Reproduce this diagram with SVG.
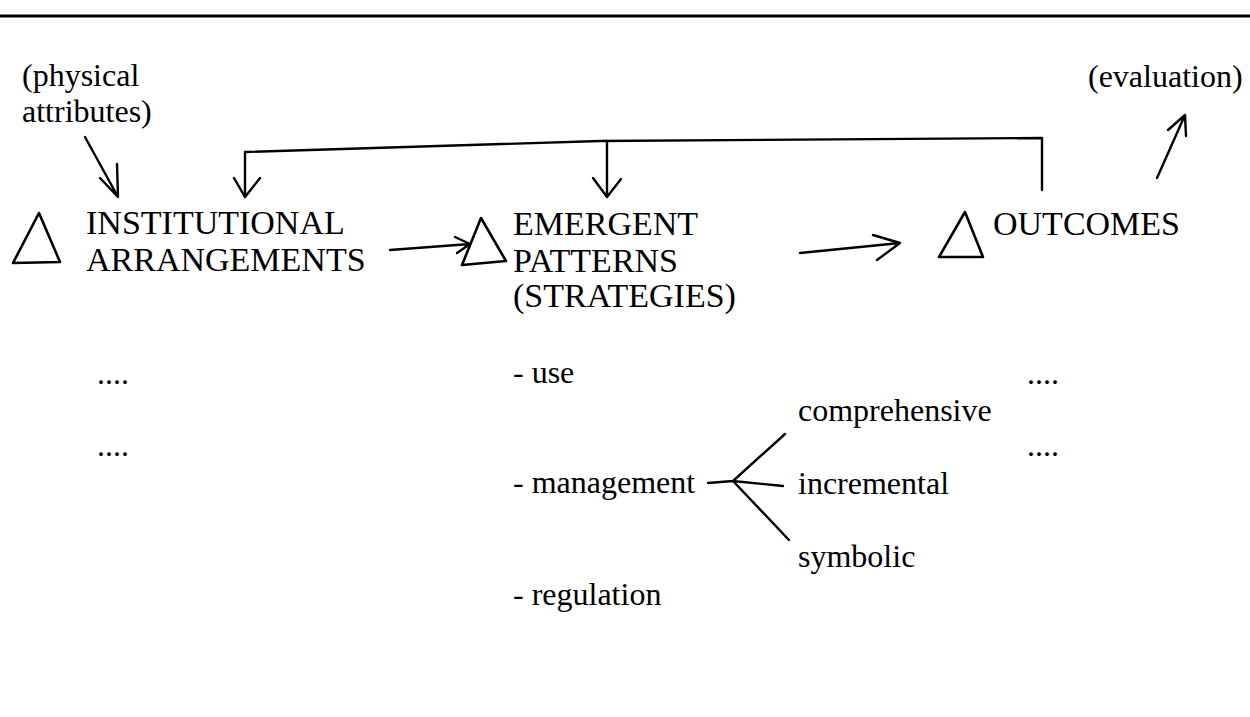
<svg xmlns="http://www.w3.org/2000/svg" width="1250" height="717" viewBox="0 0 1250 717">
<style>
text{font-family:"Liberation Serif","Times New Roman",serif;fill:#000}
.cap{font-size:34px}
.lc{font-size:32px}
.ln{fill:none;stroke:#000;stroke-width:2.4;stroke-linecap:round;stroke-linejoin:round}
.tri{fill:none;stroke:#000;stroke-width:2.6;stroke-linejoin:round}
</style>
<rect width="1250" height="717" fill="#fff"/>
<line x1="0" y1="16" x2="1250" y2="16" stroke="#000" stroke-width="3"/>

<g id="physical-attributes">
<text class="lc" x="22" y="86">(physical</text>
<text class="lc" x="22" y="122">attributes)</text>
</g>
<g id="evaluation">
<text class="lc" x="1088" y="87">(evaluation)</text>
</g>

<g id="institutional-arrangements">
<polygon class="tri" points="39,213 13,263 60,262"/>
<text class="cap" x="86" y="234">INSTITUTIONAL</text>
<text class="cap" x="86" y="271">ARRANGEMENTS</text>
<text class="lc" x="97" y="384">....</text>
<text class="lc" x="97" y="456">....</text>
</g>

<g id="emergent-patterns">
<polygon class="tri" points="481,218 462,265 506,261"/>
<text class="cap" x="513" y="235">EMERGENT</text>
<text class="cap" x="513" y="272">PATTERNS</text>
<text class="cap" x="513" y="307">(STRATEGIES)</text>
<text class="lc" x="513" y="383">- use</text>
<text class="lc" x="513" y="493">- management</text>
<text class="lc" x="513" y="605">- regulation</text>
</g>

<g id="management-types">
<text class="lc" x="798" y="421">comprehensive</text>
<text class="lc" x="798" y="494">incremental</text>
<text class="lc" x="798" y="567">symbolic</text>
</g>

<g id="outcomes">
<polygon class="tri" points="965,212 939,257 983,257"/>
<text class="cap" x="993" y="235">OUTCOMES</text>
<text class="lc" x="1027" y="384">....</text>
<text class="lc" x="1027" y="456">....</text>
</g>

<g id="connectors">
<path class="ln" d="M85,137 L118,197 M100,178 L118,197 L117,164"/>
<path class="ln" d="M1042,190 L1042,138 L600,141 L245,152 L245,197"/>
<path class="ln" d="M234,178 L245,197 L260,178"/>
<path class="ln" d="M607,141 L607,197 M593,178 L607,197 L621,179"/>
<path class="ln" d="M390,250 L470,244 M455,237 L470,244 L457,253"/>
<path class="ln" d="M800,253 L900,243 M873,235 L900,243 L877,260"/>
<path class="ln" d="M1157,178 L1185,115 M1168,130 L1185,115 L1186,136"/>
<path class="ln" d="M708,483 L733,481 M733,481 L785,434 M733,481 L783,486 M733,481 L789,540"/>
</g>
</svg>
